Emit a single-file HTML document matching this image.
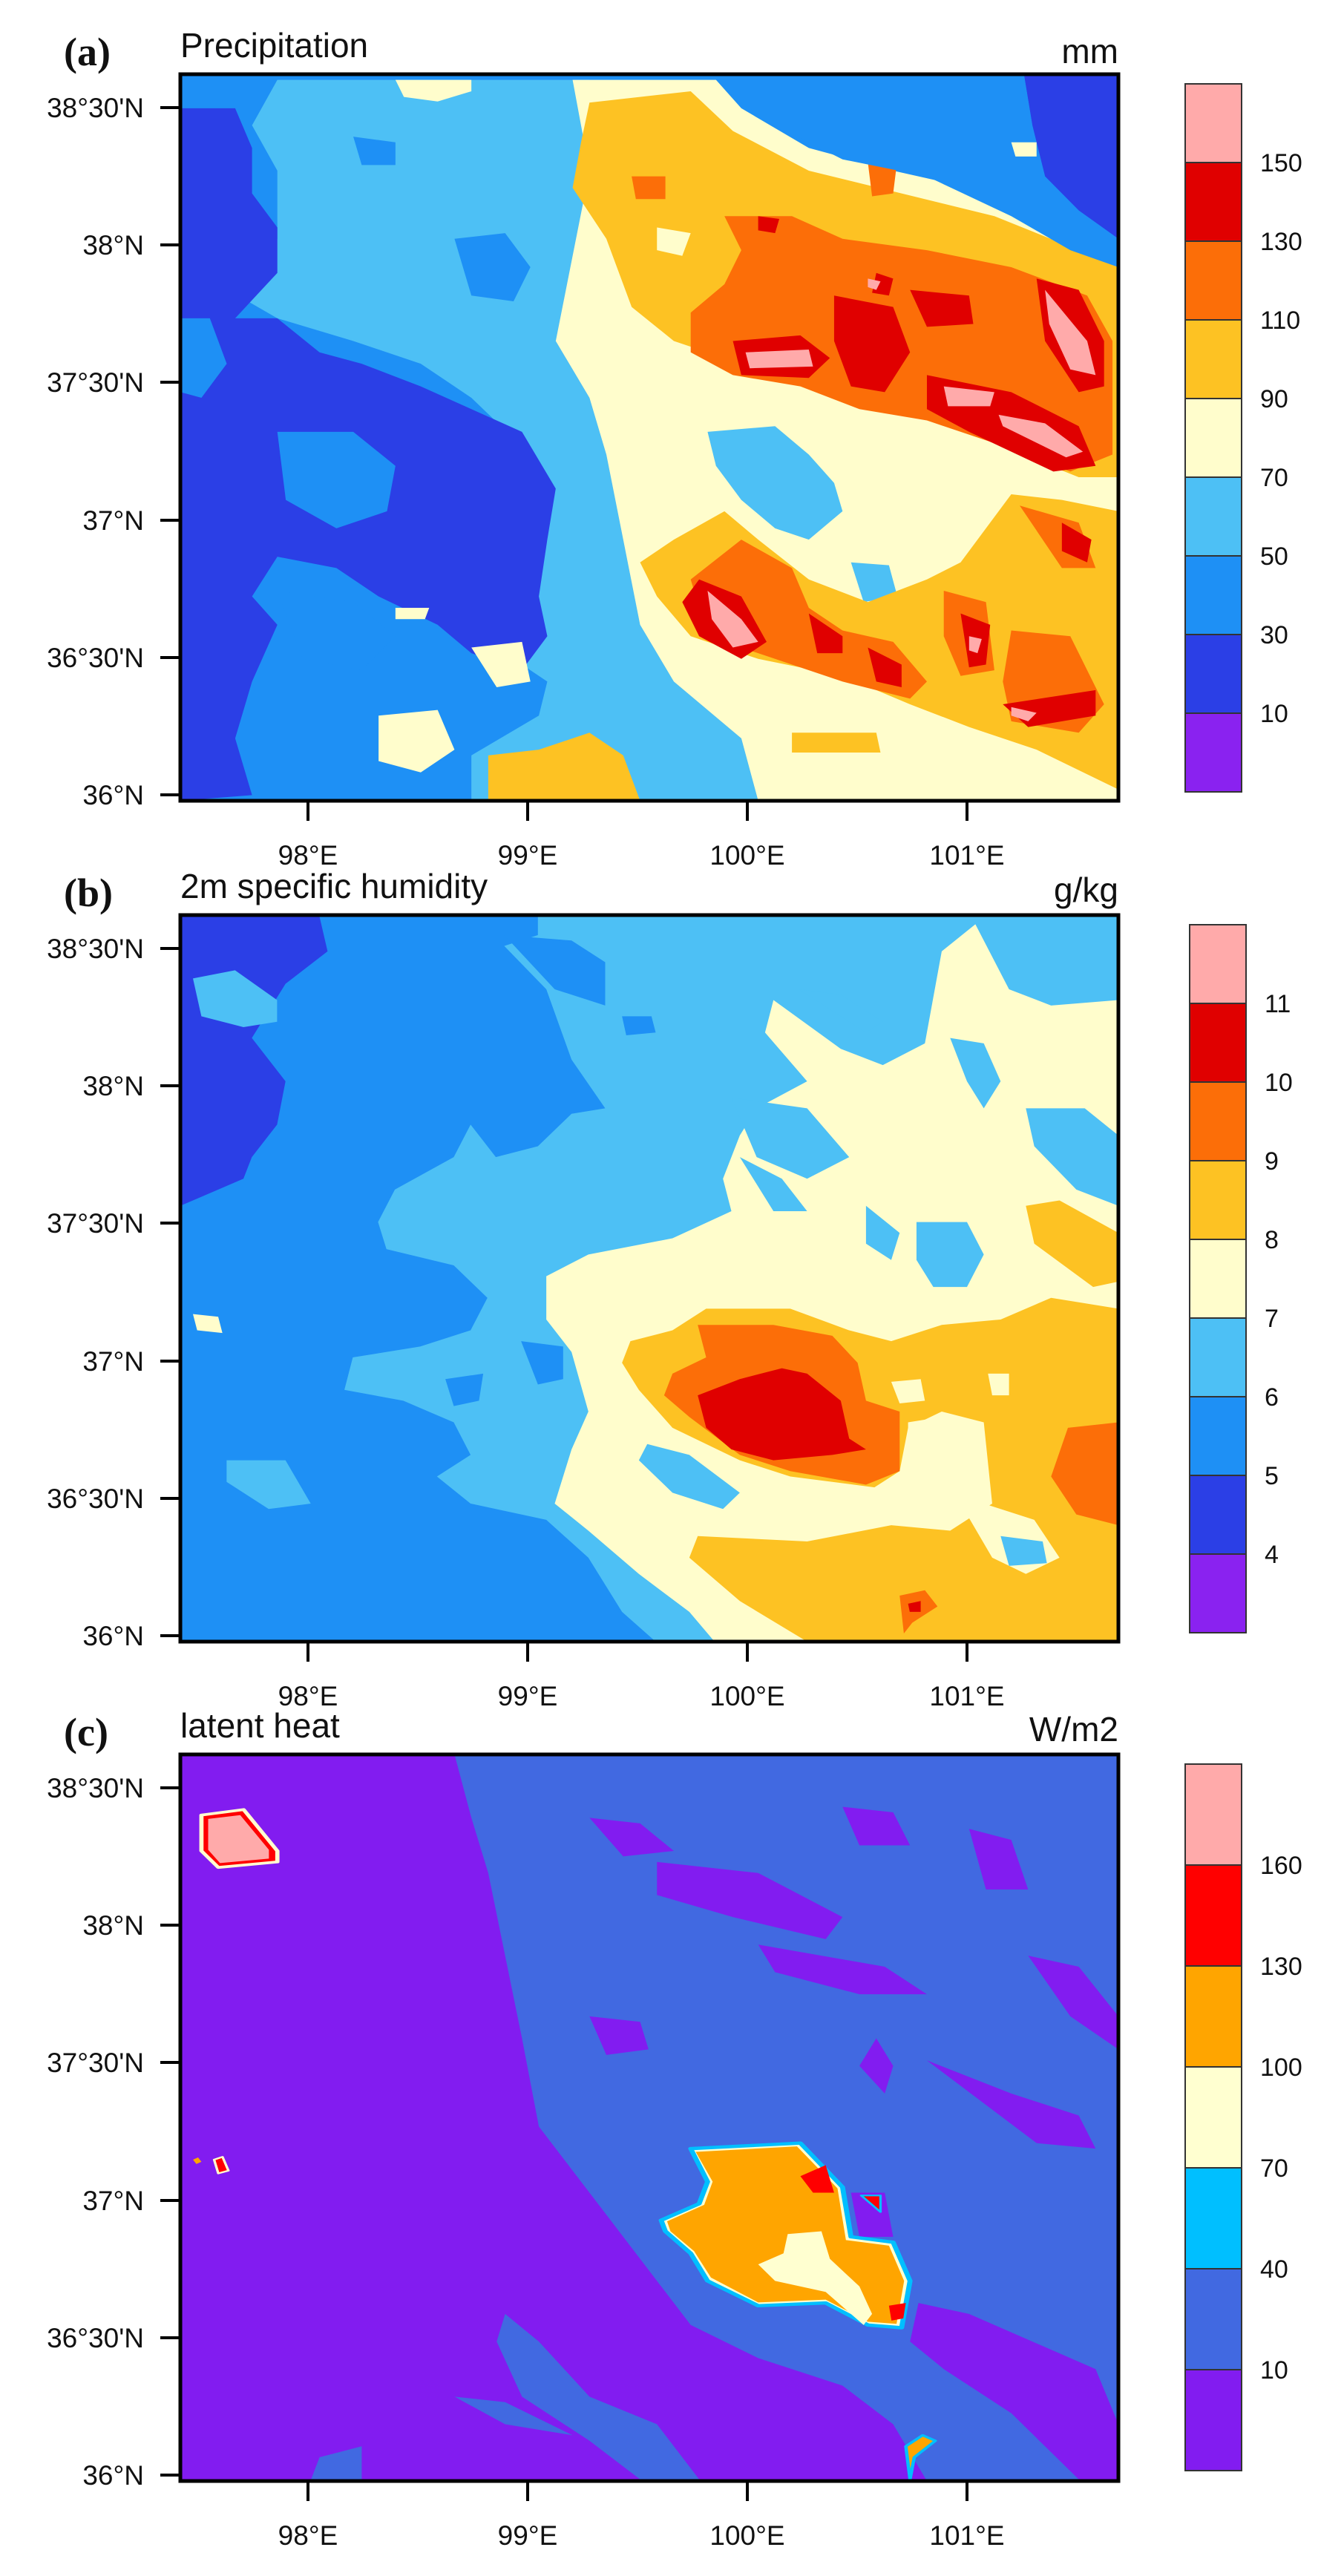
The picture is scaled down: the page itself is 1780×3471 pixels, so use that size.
<!DOCTYPE html>
<html><head><meta charset="utf-8"><style>
html,body{margin:0;padding:0;background:#fff;}
svg text{font-family:"Liberation Sans",sans-serif;fill:#111;}
.t{font-size:37px;}
.cb{font-size:34px;}
.ttl{font-size:46px;}
.lab{font-family:"Liberation Serif",serif;font-weight:bold;font-size:54px;}
</style></head><body>
<svg width="1780" height="3466" viewBox="0 0 1780 3466" xmlns="http://www.w3.org/2000/svg">
<rect width="1780" height="3466" fill="#fff"/>

<!-- ================= PANEL A ================= -->
<svg x="243" y="100" width="1264" height="979" viewBox="215 130 1112 1280" preserveAspectRatio="none">
<g stroke-linejoin="round">
<rect x="215" y="130" width="1112" height="1280" fill="#1e90f5"/>
<polygon fill="#4dc0f5" points="330,140 700,140 700,300 680,450 660,600 700,700 720,800 740,950 760,1100 800,1200 880,1300 900,1410 560,1410 560,1330 640,1260 650,1200 600,1150 560,1050 540,950 600,870 630,800 560,700 500,640 420,600 330,560 260,500 330,420 330,300 300,220"/>
<polygon fill="#1e90f5" points="540,420 600,410 630,470 610,530 560,520"/>
<polygon fill="#1e90f5" points="420,240 470,250 470,290 430,290"/>
<polygon fill="#2b3fe6" points="215,190 280,190 300,260 300,340 330,400 330,480 280,560 330,560 380,620 430,640 500,680 560,720 620,760 660,860 650,950 640,1050 650,1120 620,1180 560,1150 520,1100 450,1050 400,1000 330,980 300,1050 330,1100 300,1200 280,1300 300,1400 215,1410"/>
<polygon fill="#1e90f5" points="330,760 420,760 470,820 460,900 400,930 340,880"/>
<polygon fill="#1e90f5" points="215,560 250,560 270,640 240,700 215,690"/>
<polygon fill="#1e90f5" points="330,1040 420,1060 470,1120 430,1180 360,1160"/>
<polygon fill="#2b3fe6" points="1215,130 1327,130 1327,420 1280,370 1240,310 1225,220"/>
<polygon fill="#fffdcc" points="470,140 560,140 560,160 520,178 480,170"/>
<polygon fill="#fffdcc" points="450,1260 520,1250 540,1320 500,1360 450,1340"/>
<polygon fill="#fffdcc" points="560,1140 620,1130 630,1200 590,1210"/>
<polygon fill="#fffdcc" points="470,1070 510,1070 505,1090 470,1090"/>
<polygon fill="#fffdcc" points="680,140 850,140 880,190 960,260 1060,300 1150,330 1230,400 1327,470 1327,1410 900,1410 880,1300 800,1200 760,1100 740,950 720,800 700,700 660,600 680,450 700,300"/>
<polygon fill="#fdc223" points="580,1330 640,1320 700,1290 740,1330 760,1410 580,1410"/>
<polygon fill="#fdc223" points="940,1290 1040,1290 1045,1325 940,1325"/>
<polygon fill="#4dc0f5" points="840,760 920,750 960,800 990,850 1000,900 960,950 920,930 880,880 850,820"/>
<polygon fill="#4dc0f5" points="1010,990 1055,995 1065,1050 1025,1060"/>
<polygon fill="#4dc0f5" points="770,230 820,240 840,290 800,300"/>
<polygon fill="#fdc223" points="700,180 820,160 870,230 960,300 1070,340 1180,380 1280,440 1327,470 1327,840 1280,840 1180,780 1080,720 980,690 880,640 800,600 750,540 720,420 680,330 690,250"/>
<polygon fill="#fffdcc" points="1150,590 1220,590 1230,620 1160,625"/>
<polygon fill="#fffdcc" points="780,400 820,410 810,450 780,440"/>
<polygon fill="#fc6e08" points="860,380 940,380 1000,420 1100,440 1200,470 1290,520 1320,600 1320,800 1270,830 1180,780 1100,740 1020,720 950,680 870,660 820,620 820,550 860,500 880,440"/>
<polygon fill="#fc6e08" points="750,310 790,310 790,350 755,350"/>
<polygon fill="#fc6e08" points="1030,285 1065,280 1060,340 1035,345"/>
<polygon fill="#e00000" points="870,600 950,590 985,630 960,665 880,660"/>
<polygon fill="#e00000" points="990,520 1060,540 1080,620 1050,690 1010,680 990,600"/>
<polygon fill="#e00000" points="1080,510 1150,520 1155,570 1100,575"/>
<polygon fill="#e00000" points="1100,660 1200,690 1280,750 1300,820 1250,830 1150,760 1100,720"/>
<polygon fill="#e00000" points="1230,490 1280,510 1310,600 1310,680 1280,690 1240,600"/>
<polygon fill="#e00000" points="900,380 925,385 920,410 900,405"/>
<polygon fill="#e00000" points="1040,480 1060,490 1055,520 1035,515"/>
<polygon fill="#ffaaaa" points="885,620 960,615 965,645 890,648"/>
<polygon fill="#ffaaaa" points="1240,510 1290,600 1300,660 1270,650 1245,570"/>
<polygon fill="#ffaaaa" points="1185,730 1240,745 1285,795 1265,805 1190,750"/>
<polygon fill="#ffaaaa" points="1120,680 1180,690 1175,715 1125,715"/>
<polygon fill="#ffaaaa" points="1030,490 1045,495 1040,510 1030,505"/>
<polygon fill="#fdc223" points="760,990 800,950 860,900 900,950 960,1020 1030,1060 1100,1020 1140,990 1200,870 1260,880 1327,900 1327,1390 1230,1320 1150,1280 1080,1240 1000,1190 900,1160 820,1120 780,1050"/>
<polygon fill="#fc6e08" points="820,1020 880,950 940,1000 960,1070 1000,1110 1060,1130 1100,1200 1080,1230 1000,1200 920,1160 840,1120"/>
<polygon fill="#fc6e08" points="1120,1040 1170,1060 1180,1180 1140,1190 1120,1120"/>
<polygon fill="#fc6e08" points="1200,1110 1270,1120 1310,1240 1280,1290 1200,1270 1190,1200"/>
<polygon fill="#fc6e08" points="1210,890 1280,920 1300,1000 1260,1000"/>
<polygon fill="#e00000" points="830,1020 880,1050 910,1130 880,1160 830,1120 810,1060"/>
<polygon fill="#e00000" points="960,1080 1000,1120 1000,1150 970,1150"/>
<polygon fill="#e00000" points="1030,1140 1070,1170 1070,1210 1040,1200"/>
<polygon fill="#e00000" points="1140,1080 1175,1100 1170,1170 1150,1175"/>
<polygon fill="#e00000" points="1190,1240 1300,1215 1300,1260 1220,1280"/>
<polygon fill="#e00000" points="1260,920 1295,950 1290,990 1260,970"/>
<polygon fill="#ffaaaa" points="840,1040 880,1090 900,1130 870,1140 845,1090"/>
<polygon fill="#ffaaaa" points="1200,1245 1230,1255 1220,1270 1200,1260"/>
<polygon fill="#ffaaaa" points="1150,1120 1165,1125 1160,1150 1150,1145"/>
<polygon fill="#1e90f5" points="850,130 1215,130 1225,220 1240,310 1280,370 1327,420 1327,470 1270,440 1200,380 1100,310 1000,280 920,220 870,170"/>
<polygon fill="#fffdcc" points="1200,250 1230,250 1230,275 1205,275"/>
</g>
</svg>
<rect x="243" y="100" width="1264" height="979" fill="none" stroke="#000" stroke-width="5"/>

<!-- ================= PANEL B ================= -->
<svg x="243" y="1233" width="1264" height="979" viewBox="215 113 1115 1342" preserveAspectRatio="none">
<g stroke-linejoin="round">
<rect x="215" y="113" width="1115" height="1342" fill="#1e90f5"/>
<polygon fill="#2b3fe6" points="215,113 380,113 390,180 340,240 300,340 340,420 330,500 300,560 290,600 230,640 215,650"/>
<polygon fill="#4dc0f5" points="230,230 280,215 330,270 330,310 290,320 240,300"/>
<polygon fill="#4dc0f5" points="640,113 1330,113 1330,1455 780,1455 740,1400 700,1300 650,1230 560,1200 520,1150 560,1110 540,1050 480,1010 410,990 420,930 500,910 560,880 580,820 540,760 460,730 450,680 470,620 540,560 560,500 590,560 640,540 680,480 720,470 680,380 650,250 600,170 640,150"/>
<polygon fill="#1e90f5" points="600,150 680,160 720,200 720,280 660,250"/>
<polygon fill="#1e90f5" points="740,300 775,300 780,330 745,335"/>
<polygon fill="#1e90f5" points="620,900 670,910 670,970 640,980"/>
<polygon fill="#1e90f5" points="530,970 575,960 570,1010 540,1020"/>
<polygon fill="#4dc0f5" points="270,1120 340,1120 370,1200 320,1210 270,1160"/>
<polygon fill="#fffdcc" points="230,850 260,855 265,885 235,880"/>
<polygon fill="#fffdcc" points="650,780 700,740 800,710 870,660 860,600 880,520 900,470 960,420 910,330 920,270 1000,360 1050,390 1100,350 1120,180 1160,130 1200,250 1250,280 1330,270 1330,1455 850,1455 820,1400 760,1330 700,1250 660,1200 680,1100 700,1030 680,920 650,860"/>
<polygon fill="#4dc0f5" points="950,250 1000,260 1050,310 1030,330"/>
<polygon fill="#4dc0f5" points="1030,650 1070,700 1060,750 1030,720"/>
<polygon fill="#4dc0f5" points="1090,680 1150,680 1170,740 1150,800 1110,800 1090,750"/>
<polygon fill="#4dc0f5" points="1220,470 1290,470 1330,520 1330,650 1280,620 1230,540"/>
<polygon fill="#4dc0f5" points="1130,340 1170,350 1190,420 1170,470 1150,420"/>
<polygon fill="#4dc0f5" points="870,450 960,470 1010,560 960,600 900,560"/>
<polygon fill="#4dc0f5" points="880,560 930,600 960,660 920,660"/>
<polygon fill="#4dc0f5" points="770,1090 820,1110 880,1180 860,1210 800,1180 760,1120"/>
<polygon fill="#fdc223" points="750,900 800,880 840,840 940,840 1010,880 1060,900 1120,870 1190,860 1250,820 1330,840 1330,1455 960,1455 880,1380 820,1300 830,1260 960,1270 1060,1240 1130,1250 1180,1200 1170,1050 1120,1030 1080,1060 1070,1140 1040,1170 940,1150 880,1120 800,1060 760,990 740,940"/>
<polygon fill="#fdc223" points="1220,650 1260,640 1330,700 1330,790 1300,800 1230,720"/>
<polygon fill="#fffdcc" points="1080,1050 1120,1040 1160,1100 1170,1200 1230,1230 1260,1300 1220,1330 1180,1300 1150,1220 1100,1180 1080,1130"/>
<polygon fill="#fffdcc" points="1060,975 1095,970 1100,1010 1070,1015"/>
<polygon fill="#fffdcc" points="1175,960 1200,960 1200,1000 1180,1000"/>
<polygon fill="#4dc0f5" points="1190,1260 1240,1270 1245,1310 1200,1315"/>
<polygon fill="#fc6e08" points="800,960 840,930 830,870 920,870 990,890 1020,940 1030,1010 1070,1030 1070,1140 1030,1165 940,1140 880,1110 820,1040 790,1000"/>
<polygon fill="#fc6e08" points="1270,1060 1330,1050 1330,1240 1280,1220 1250,1150"/>
<polygon fill="#fc6e08" points="1070,1370 1100,1360 1115,1390 1085,1420 1075,1440"/>
<polygon fill="#e00000" points="830,1000 880,970 930,950 960,960 1000,1010 1010,1080 1030,1100 990,1110 920,1120 870,1100 840,1060"/>
<polygon fill="#e00000" points="1080,1385 1095,1380 1095,1400 1082,1400"/>
</g>
</svg>
<rect x="243" y="1233" width="1264" height="979" fill="none" stroke="#000" stroke-width="5"/>

<!-- ================= PANEL C ================= -->
<svg x="243" y="2364" width="1264" height="979" viewBox="215 85 1112 1318" preserveAspectRatio="none">
<g stroke-linejoin="round">
<rect x="215" y="85" width="1112" height="1318" fill="#821cf0"/>
<polygon fill="#4169e1" points="540,85 1327,85 1327,1403 1100,1403 1060,1300 1000,1230 900,1180 820,1120 760,1000 700,880 640,760 620,600 600,450 580,300 560,200"/>
<polygon fill="#4169e1" points="600,1100 640,1150 700,1250 780,1300 830,1400 760,1400 700,1330 620,1250 590,1150"/>
<polygon fill="#4169e1" points="540,1250 600,1260 680,1320 600,1300"/>
<polygon fill="#4169e1" points="380,1360 430,1340 430,1400 370,1400"/>
<polygon fill="#821cf0" points="780,280 900,300 1000,380 980,420 870,380 780,340"/>
<polygon fill="#821cf0" points="700,200 760,210 800,260 740,270"/>
<polygon fill="#821cf0" points="900,430 1050,470 1100,520 1020,520 920,480"/>
<polygon fill="#821cf0" points="1150,220 1200,240 1220,330 1170,330"/>
<polygon fill="#821cf0" points="1040,600 1060,650 1050,700 1020,650"/>
<polygon fill="#821cf0" points="1100,640 1200,700 1280,740 1300,800 1230,790"/>
<polygon fill="#821cf0" points="700,560 760,570 770,620 720,630"/>
<polygon fill="#821cf0" points="1000,180 1060,190 1080,250 1020,250"/>
<polygon fill="#821cf0" points="1220,450 1280,470 1327,560 1327,620 1270,560"/>
<polygon fill="#821cf0" points="1090,1080 1150,1100 1300,1200 1327,1300 1327,1403 1280,1400 1200,1280 1120,1200 1080,1150"/>
<polygon fill="#821cf0" points="1010,880 1050,880 1060,960 1020,960"/>
<polygon fill="#ffffd0" stroke="#00bfff" stroke-width="6" points="820,800 950,790 1000,870 1010,960 1060,970 1080,1040 1070,1125 1030,1120 980,1080 900,1085 840,1040 820,990 790,950 785,930 830,900 840,860"/>
<polygon fill="#ffa500" points="826,806 946,796 994,872 1004,966 1055,976 1073,1040 1064,1118 1030,1114 980,1074 900,1079 844,1034 824,986 796,950 792,932 836,902 846,860"/>
<polygon fill="#ffffd0" points="935,955 975,950 985,1000 1020,1050 1035,1100 1025,1120 980,1060 920,1040 900,1010 930,990"/>
<polygon fill="#ff0000" points="950,850 980,830 990,880 965,880"/>
<polygon fill="#ff0000" stroke="#00bfff" stroke-width="3" points="1022,885 1045,885 1045,915"/>
<polygon fill="#ff0000" points="1055,1085 1075,1080 1072,1108 1058,1112"/>
<polygon fill="#ff0000" stroke="#ffffd0" stroke-width="5" points="240,195 290,185 330,260 330,280 260,290 240,260"/>
<polygon fill="#ffaaaa" points="248,202 286,195 320,258 320,274 262,282 248,258"/>
<polygon fill="#ffa500" stroke="#00bfff" stroke-width="4" points="1075,1340 1095,1320 1110,1330 1085,1360 1080,1400"/>
<polygon fill="#ff0000" stroke="#ffffd0" stroke-width="3" points="255,820 265,815 272,840 260,845"/>
<polygon fill="#ffa500" points="230,820 236,816 240,824 234,828"/>
</g>
</svg>
<rect x="243" y="2364" width="1264" height="979" fill="none" stroke="#000" stroke-width="5"/>

<g stroke="#000" stroke-width="4">
<line x1="216" y1="145" x2="243" y2="145"/><line x1="216" y1="330" x2="243" y2="330"/><line x1="216" y1="515" x2="243" y2="515"/><line x1="216" y1="701" x2="243" y2="701"/><line x1="216" y1="886" x2="243" y2="886"/><line x1="216" y1="1071" x2="243" y2="1071"/>
<line x1="415" y1="1079" x2="415" y2="1106"/><line x1="711" y1="1079" x2="711" y2="1106"/><line x1="1007" y1="1079" x2="1007" y2="1106"/><line x1="1303" y1="1079" x2="1303" y2="1106"/>
<line x1="216" y1="1278" x2="243" y2="1278"/><line x1="216" y1="1463" x2="243" y2="1463"/><line x1="216" y1="1648" x2="243" y2="1648"/><line x1="216" y1="1834" x2="243" y2="1834"/><line x1="216" y1="2019" x2="243" y2="2019"/><line x1="216" y1="2204" x2="243" y2="2204"/>
<line x1="415" y1="2212" x2="415" y2="2239"/><line x1="711" y1="2212" x2="711" y2="2239"/><line x1="1007" y1="2212" x2="1007" y2="2239"/><line x1="1303" y1="2212" x2="1303" y2="2239"/>
<line x1="216" y1="2409" x2="243" y2="2409"/><line x1="216" y1="2594" x2="243" y2="2594"/><line x1="216" y1="2779" x2="243" y2="2779"/><line x1="216" y1="2965" x2="243" y2="2965"/><line x1="216" y1="3150" x2="243" y2="3150"/><line x1="216" y1="3335" x2="243" y2="3335"/>
<line x1="415" y1="3343" x2="415" y2="3370"/><line x1="711" y1="3343" x2="711" y2="3370"/><line x1="1007" y1="3343" x2="1007" y2="3370"/><line x1="1303" y1="3343" x2="1303" y2="3370"/>
</g>

<g class="t" text-anchor="end">
<text x="194" y="158">38°30'N</text><text x="194" y="343">38°N</text><text x="194" y="528">37°30'N</text><text x="194" y="714">37°N</text><text x="194" y="899">36°30'N</text><text x="194" y="1084">36°N</text>
<text x="194" y="1291">38°30'N</text><text x="194" y="1476">38°N</text><text x="194" y="1661">37°30'N</text><text x="194" y="1847">37°N</text><text x="194" y="2032">36°30'N</text><text x="194" y="2217">36°N</text>
<text x="194" y="2422">38°30'N</text><text x="194" y="2607">38°N</text><text x="194" y="2792">37°30'N</text><text x="194" y="2978">37°N</text><text x="194" y="3163">36°30'N</text><text x="194" y="3348">36°N</text>
</g>
<g class="t" text-anchor="middle">
<text x="415" y="1165">98°E</text><text x="711" y="1165">99°E</text><text x="1007" y="1165">100°E</text><text x="1303" y="1165">101°E</text>
<text x="415" y="2298">98°E</text><text x="711" y="2298">99°E</text><text x="1007" y="2298">100°E</text><text x="1303" y="2298">101°E</text>
<text x="415" y="3429">98°E</text><text x="711" y="3429">99°E</text><text x="1007" y="3429">100°E</text><text x="1303" y="3429">101°E</text>
</g>

<text class="lab" x="86" y="88">(a)</text>
<text class="ttl" x="243" y="77">Precipitation</text>
<text class="ttl" x="1507" y="85" text-anchor="end">mm</text>
<text class="lab" x="86" y="1221">(b)</text>
<text class="ttl" x="243" y="1210">2m specific humidity</text>
<text class="ttl" x="1507" y="1215" text-anchor="end">g/kg</text>
<text class="lab" x="86" y="2352">(c)</text>
<text class="ttl" x="243" y="2341">latent heat</text>
<text class="ttl" x="1507" y="2346" text-anchor="end">W/m2</text>

<g stroke="#333" stroke-width="2">
<rect x="1597" y="113" width="76" height="106" fill="#ffaaaa"/>
<rect x="1597" y="219" width="76" height="106" fill="#e00000"/>
<rect x="1597" y="325" width="76" height="106" fill="#fc6e08"/>
<rect x="1597" y="431" width="76" height="106" fill="#fdc223"/>
<rect x="1597" y="537" width="76" height="106" fill="#fffdcc"/>
<rect x="1597" y="643" width="76" height="106" fill="#4dc0f5"/>
<rect x="1597" y="749" width="76" height="106" fill="#1e90f5"/>
<rect x="1597" y="855" width="76" height="106" fill="#2b3fe6"/>
<rect x="1597" y="961" width="76" height="106" fill="#8a22f0"/>
</g>
<g class="cb">
<text x="1698" y="231">150</text><text x="1698" y="337">130</text><text x="1698" y="443">110</text><text x="1698" y="549">90</text><text x="1698" y="655">70</text><text x="1698" y="761">50</text><text x="1698" y="867">30</text><text x="1698" y="973">10</text>
</g>
<g stroke="#333" stroke-width="2">
<rect x="1603" y="1246" width="76" height="106" fill="#ffaaaa"/>
<rect x="1603" y="1352" width="76" height="106" fill="#e00000"/>
<rect x="1603" y="1458" width="76" height="106" fill="#fc6e08"/>
<rect x="1603" y="1564" width="76" height="106" fill="#fdc223"/>
<rect x="1603" y="1670" width="76" height="106" fill="#fffdcc"/>
<rect x="1603" y="1776" width="76" height="106" fill="#4dc0f5"/>
<rect x="1603" y="1882" width="76" height="106" fill="#1e90f5"/>
<rect x="1603" y="1988" width="76" height="106" fill="#2b3fe6"/>
<rect x="1603" y="2094" width="76" height="106" fill="#8a22f0"/>
</g>
<g class="cb">
<text x="1704" y="1364">11</text><text x="1704" y="1470">10</text><text x="1704" y="1576">9</text><text x="1704" y="1682">8</text><text x="1704" y="1788">7</text><text x="1704" y="1894">6</text><text x="1704" y="2000">5</text><text x="1704" y="2106">4</text>
</g>
<g stroke="#333" stroke-width="2">
<rect x="1597" y="2377" width="76" height="136" fill="#ffaaaa"/>
<rect x="1597" y="2513" width="76" height="136" fill="#ff0000"/>
<rect x="1597" y="2649" width="76" height="136" fill="#ffa500"/>
<rect x="1597" y="2785" width="76" height="136" fill="#ffffd0"/>
<rect x="1597" y="2921" width="76" height="136" fill="#00bfff"/>
<rect x="1597" y="3057" width="76" height="136" fill="#4169e1"/>
<rect x="1597" y="3193" width="76" height="136" fill="#821cf0"/>
</g>
<g class="cb">
<text x="1698" y="2525">160</text><text x="1698" y="2661">130</text><text x="1698" y="2797">100</text><text x="1698" y="2933">70</text><text x="1698" y="3069">40</text><text x="1698" y="3205">10</text>
</g>
</svg>
</body></html>
